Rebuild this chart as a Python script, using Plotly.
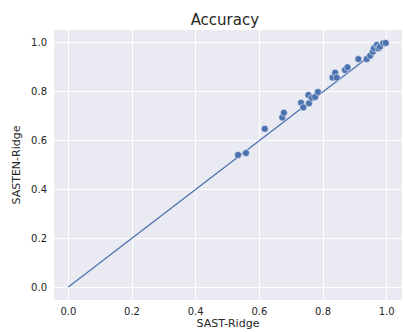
import plotly.graph_objects as go

sast_ridge = [0.533, 0.558, 0.617, 0.672, 0.677, 0.731, 0.738, 0.754, 0.756, 0.765, 0.775, 0.784,
              0.830, 0.838, 0.843, 0.869, 0.877, 0.911, 0.937, 0.948, 0.956, 0.960, 0.969, 0.974,
              0.979, 0.989, 0.997]
sasten_ridge = [0.541, 0.549, 0.648, 0.695, 0.714, 0.755, 0.736, 0.787, 0.753, 0.775, 0.779, 0.799,
                0.858, 0.878, 0.858, 0.889, 0.900, 0.934, 0.934, 0.948, 0.964, 0.978, 0.992, 0.978,
                0.985, 0.999, 1.000]
diag_x = [0.0, 1.0]
diag_y = [0.0, 1.0]
tick_vals = [0.0, 0.2, 0.4, 0.6, 0.8, 1.0]

blue = "#4C72B0"
fig = go.Figure()
fig.add_trace(go.Scatter(x=diag_x, y=diag_y, mode="lines",
                         line=dict(color=blue, width=1.3), showlegend=False, hoverinfo="skip"))
fig.add_trace(go.Scatter(x=sast_ridge, y=sasten_ridge, mode="markers",
                         marker=dict(color=blue, size=7, line=dict(color="white", width=0.5)),
                         showlegend=False))

axis_common = dict(
    tickvals=tick_vals, tickformat=".1f", showgrid=True, gridcolor="white", gridwidth=1,
    zeroline=False, showline=False, ticks="", tickfont=dict(family="DejaVu Sans", size=10, color="#262626"),
)
fig.update_layout(
    width=403, height=332,
    margin=dict(l=54, r=1, t=30, b=32),
    paper_bgcolor="white", plot_bgcolor="#EAEAF2",
    font=dict(family="DejaVu Sans", color="#262626"),
    title=dict(text="Accuracy", x=0.558, xanchor="center", y=0.94, yanchor="middle",
               font=dict(family="DejaVu Sans", size=15, color="#262626")),
    xaxis=dict(range=[-0.045, 1.048], ticklabelstandoff=4,
               title=dict(text="SAST-Ridge", standoff=2,
               font=dict(family="DejaVu Sans", size=11, color="#262626")), **axis_common),
    yaxis=dict(range=[-0.053, 1.053], ticklabelstandoff=6,
               title=dict(text="SASTEN-Ridge", standoff=8,
               font=dict(family="DejaVu Sans", size=11, color="#262626")), **axis_common),
)
fig.write_html("out.html")
